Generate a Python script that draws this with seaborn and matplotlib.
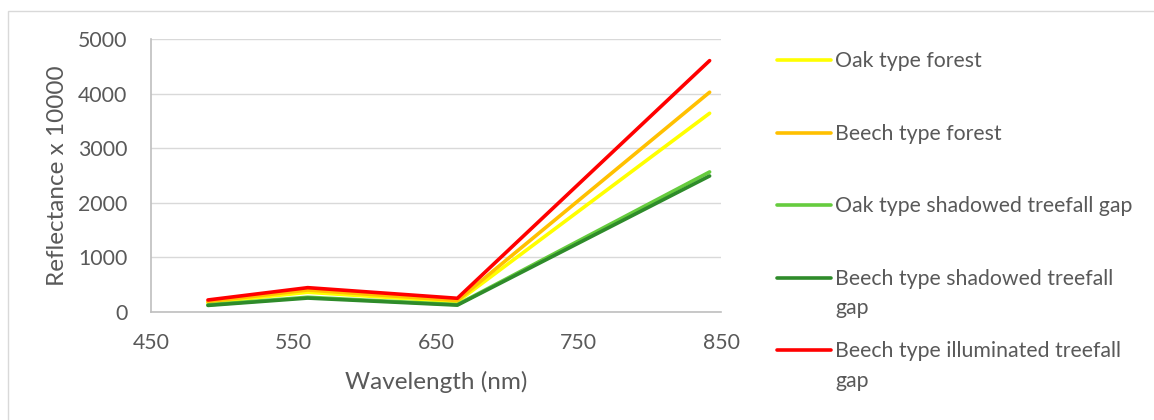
import pandas as pd
import matplotlib.pyplot as plt
import seaborn as sns
from matplotlib.lines import Line2D
from matplotlib.patches import Rectangle

wavelength = [490, 560, 665, 842]

oak_forest = [165, 356, 182, 3642]
beech_forest = [184, 398, 205, 4028]
oak_shadowed_gap = [125, 265, 130, 2565]
beech_shadowed_gap = [115, 250, 120, 2491]
beech_illuminated_gap = [215, 441, 246, 4608]

series_names = [
    "Oak type forest",
    "Beech type forest",
    "Oak type shadowed treefall gap",
    "Beech type shadowed treefall\ngap",
    "Beech type illuminated treefall\ngap",
]
colors = ["#FFFF00", "#FFC000", "#66CC3E", "#2E8B2A", "#FF0000"]

frames = []
for name, vals in zip(series_names, [oak_forest, beech_forest, oak_shadowed_gap,
                                     beech_shadowed_gap, beech_illuminated_gap]):
    frames.append(pd.DataFrame({"Wavelength": wavelength, "Reflectance": vals, "Serie": name}))
df = pd.concat(frames)

sns.set_style("white")
plt.rcParams['font.family'] = ['Lato', 'DejaVu Sans']
text_gray = "#595959"

fig = plt.figure(figsize=(11.54, 4.2), dpi=100)
ax = fig.add_axes([0.1308, 0.2579, 0.494, 0.6486])

sns.lineplot(data=df, x="Wavelength", y="Reflectance", hue="Serie", palette=colors,
             linewidth=2.6, legend=False, ax=ax)

ax.set_xlim(450, 850)
ax.set_ylim(0, 5000)
ax.set_xticks([450, 550, 650, 750, 850])
ax.set_yticks([0, 1000, 2000, 3000, 4000, 5000])
ax.grid(axis="y", color="#d9d9d9", linewidth=1)
ax.set_axisbelow(True)
for side in ["top", "right"]:
    ax.spines[side].set_visible(False)
for side in ["left", "bottom"]:
    ax.spines[side].set_color("#bfbfbf")
    ax.spines[side].set_linewidth(1.2)
ax.tick_params(axis="both", length=0, labelsize=15.3, labelcolor=text_gray)
ax.tick_params(axis="x", pad=15)
ax.tick_params(axis="y", pad=17)
ax.set_xlabel("Wavelength (nm)", fontsize=17.5, color=text_gray, labelpad=13)
ax.set_ylabel("Reflectance x 10000", fontsize=17.5, color=text_gray, labelpad=7)

# legend drawn on the right, Excel style; second lines of long labels placed below
W, H = 1154, 420
rows_y = [60, 132.5, 205, 277.5, 350]
for name, color, y in zip(series_names, colors, rows_y):
    fy = 1 - y / H
    fig.add_artist(Line2D([777 / W, 831 / W], [fy, fy], color=color, linewidth=2.6,
                          solid_capstyle="round"))
    for i, part in enumerate(name.split("\n")):
        fig.text(835 / W, 1 - (y + 7.3 + 29.4 * i) / H, part, fontsize=15.3,
                 color=text_gray, va="baseline")

fig.add_artist(Rectangle((8 / W, -0.1), 1.1, 1 - 10.5 / H + 0.1, fill=False,
                         edgecolor="#d9d9d9", linewidth=1, transform=fig.transFigure))

fig.savefig("out.png", dpi=100)
